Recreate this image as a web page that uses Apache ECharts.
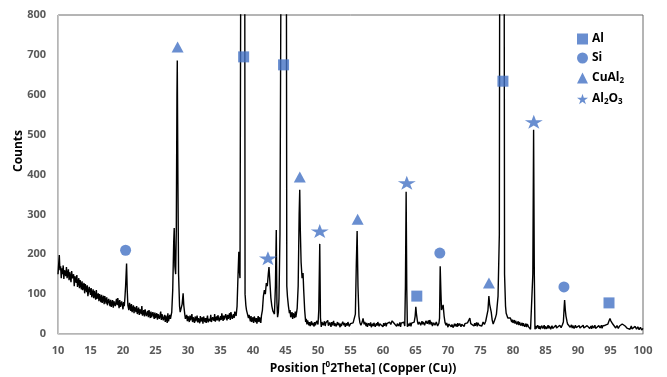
<!DOCTYPE html>
<html>
<head>
<meta charset="utf-8">
<script src="https://cdn.jsdelivr.net/npm/echarts@6/dist/echarts.min.js"></script>
<style>html,body{margin:0;padding:0;background:#fff}#c{width:667px;height:377px}</style>
</head>
<body>
<div id="c"></div>
<script>
// XRD pattern: [2theta, counts]
var pattern = [
[10.0,150],[10.1,175],[10.2,198],[10.3,160],[10.4,170],[10.5,140],[10.6,165],[10.7,150],[10.8,172],[10.9,138],
[11.0,160],[11.2,145],[11.3,168],[11.4,140],[11.6,162],[11.7,135],[11.8,155],[12.0,130],[12.1,158],[12.2,140],
[12.4,150],[12.5,120],[12.6,145],[12.8,128],[12.9,148],[13.0,118],[13.2,140],[13.3,115],[13.4,135],[13.6,112],
[13.7,132],[13.8,110],[14.0,128],[14.1,102],[14.2,125],[14.4,105],[14.5,122],[14.6,95],[14.8,118],[15.0,98],
[15.1,115],[15.2,92],[15.4,112],[15.5,90],[15.6,108],[15.8,86],[15.9,110],[16.0,88],[16.2,102],[16.3,82],
[16.4,100],[16.6,80],[16.7,98],[16.8,78],[17.0,96],[17.1,75],[17.2,95],[17.4,76],[17.5,92],[17.6,72],
[17.8,88],[18.0,70],[18.1,86],[18.2,68],[18.4,85],[18.5,66],[18.6,82],[18.8,70],[19.0,88],[19.1,72],
[19.2,90],[19.4,65],[19.5,85],[19.6,68],[19.8,82],[20.0,62],[20.1,80],[20.2,70],[20.3,92],[20.4,120],
[20.55,177],[20.65,110],[20.75,72],[20.9,60],[21.0,78],[21.2,58],[21.3,75],[21.4,55],[21.6,72],[21.7,52],
[21.8,68],[22.0,55],[22.1,70],[22.2,50],[22.4,66],[22.5,48],[22.6,62],[22.8,50],[22.9,70],[23.0,46],
[23.2,60],[23.3,44],[23.4,62],[23.6,45],[23.8,58],[23.9,42],[24.0,60],[24.2,40],[24.3,56],[24.4,42],
[24.6,55],[24.8,38],[24.9,54],[25.0,40],[25.2,52],[25.3,36],[25.4,50],[25.6,38],[25.8,56],[25.9,35],
[26.0,50],[26.2,34],[26.4,48],[26.5,30],[26.6,46],[26.8,28],[26.9,52],[27.0,32],[27.2,48],[27.3,38],
[27.5,55],[27.65,110],[27.8,230],[27.88,266],[27.98,170],[28.1,150],[28.2,260],[28.3,600],[28.35,686],[28.45,380],
[28.55,150],[28.7,70],[28.8,55],[28.95,50],[29.1,75],[29.25,102],[29.35,72],[29.5,50],[29.6,38],
[29.8,48],[29.9,32],[30.0,45],[30.2,30],[30.3,46],[30.4,34],[30.6,50],[30.7,30],[30.8,42],[31.0,28],
[31.1,44],[31.2,32],[31.4,46],[31.5,29],[31.6,40],[31.8,27],[31.9,45],[32.0,31],[32.2,42],[32.3,26],
[32.4,44],[32.6,30],[32.7,40],[32.8,28],[33.0,46],[33.1,29],[33.2,38],[33.4,32],[33.5,48],[33.6,30],
[33.8,42],[34.0,33],[34.1,50],[34.2,31],[34.4,44],[34.5,34],[34.6,47],[34.8,32],[35.0,45],[35.1,35],
[35.2,52],[35.4,33],[35.5,46],[35.6,36],[35.8,50],[36.0,34],[36.1,48],[36.2,38],[36.4,52],[36.5,35],
[36.6,55],[36.8,38],[37.0,50],[37.1,40],[37.2,56],[37.4,45],[37.55,70],[37.7,150],[37.82,206],[37.9,160],
[38.0,140],[38.1,145],[38.2,1500],[38.45,3000],[38.7,1500],[38.78,100],[38.9,72],[39.0,60],[39.2,55],[39.3,40],
[39.4,48],[39.6,32],[39.7,45],[39.8,30],[40.0,42],[40.1,28],[40.2,44],[40.4,30],[40.5,40],[40.6,26],
[40.8,45],[40.9,30],[41.0,42],[41.2,28],[41.3,46],[41.45,60],[41.6,95],[41.75,110],[41.9,100],[42.05,128],
[42.2,120],[42.35,150],[42.46,168],[42.6,130],[42.75,90],[42.9,70],[43.05,58],[43.2,62],[43.3,50],[43.45,120],
[43.58,261],[43.68,80],[43.78,42],[43.9,55],[44.0,90],[44.15,250],[44.3,900],[44.75,3000],[45.14,900],[45.2,120],
[45.3,94],[45.45,70],[45.6,52],[45.7,60],[45.8,42],[46.0,55],[46.1,38],[46.2,52],[46.4,40],[46.5,56],
[46.6,42],[46.8,65],[46.95,120],[47.1,300],[47.19,362],[47.28,260],[47.4,180],[47.55,140],[47.7,153],[47.8,110],
[47.95,60],[48.1,30],[48.2,38],[48.3,24],[48.4,34],[48.6,22],[48.7,30],[48.8,20],[49.0,32],[49.1,22],
[49.2,28],[49.4,19],[49.5,30],[49.6,22],[49.8,33],[50.0,24],[50.12,60],[50.27,226],[50.38,40],[50.5,18],
[50.6,30],[50.8,22],[51.0,32],[51.1,20],[51.2,28],[51.4,24],[51.5,34],[51.6,21],[51.8,29],[52.0,18],
[52.1,30],[52.2,22],[52.4,33],[52.5,20],[52.6,27],[52.8,19],[53.0,30],[53.1,22],[53.2,28],[53.4,17],
[53.5,26],[53.6,20],[53.8,31],[54.0,22],[54.1,28],[54.2,18],[54.4,27],[54.5,21],[54.6,30],[54.8,19],
[55.0,26],[55.2,22],[55.4,28],[55.6,25],[55.75,50],[55.9,180],[56.02,258],[56.15,120],[56.3,45],[56.45,28],
[56.6,22],[56.8,30],[56.93,39],[57.1,24],[57.2,30],[57.4,20],[57.5,28],[57.6,18],[57.8,27],[58.0,21],
[58.1,29],[58.2,17],[58.4,26],[58.5,20],[58.6,28],[58.8,18],[59.0,27],[59.1,21],[59.2,30],[59.4,19],
[59.5,26],[59.6,22],[59.8,29],[60.0,18],[60.1,27],[60.2,21],[60.4,28],[60.5,19],[60.6,26],[60.8,22],
[61.0,30],[61.2,24],[61.4,33],[61.55,36],[61.7,27],[61.8,22],[62.0,28],[62.1,19],[62.2,26],[62.4,20],
[62.6,29],[62.7,18],[62.8,27],[63.0,22],[63.2,30],[63.35,20],[63.45,120],[63.56,357],[63.66,110],[63.75,18],
[63.9,26],[64.0,20],[64.2,28],[64.3,19],[64.4,27],[64.6,22],[64.8,30],[64.95,45],[65.05,68],[65.15,50],
[65.3,32],[65.4,24],[65.6,30],[65.8,22],[66.0,32],[66.1,24],[66.2,30],[66.4,22],[66.6,33],[66.7,35],
[66.8,26],[67.0,34],[67.1,24],[67.2,35],[67.4,24],[67.5,30],[67.6,20],[67.8,28],[68.0,22],[68.2,30],
[68.4,20],[68.6,27],[68.7,40],[68.8,170],[68.9,110],[69.0,60],[69.15,65],[69.25,73],[69.4,45],[69.55,28],
[69.7,22],[69.8,28],[70.0,17],[70.1,25],[70.2,20],[70.4,27],[70.5,18],[70.6,24],[70.8,16],[71.0,26],
[71.1,19],[71.2,25],[71.4,18],[71.5,27],[71.6,20],[71.8,26],[72.0,18],[72.1,24],[72.2,20],[72.4,28],
[72.5,19],[72.6,26],[72.8,21],[73.0,28],[73.2,24],[73.36,40],[73.5,26],[73.6,22],[73.8,30],[74.0,20],
[74.1,27],[74.2,21],[74.4,29],[74.5,19],[74.6,28],[74.8,22],[75.0,27],[75.2,20],[75.4,30],[75.6,24],
[75.8,32],[76.0,35],[76.15,60],[76.29,95],[76.4,75],[76.5,80],[76.65,55],[76.8,35],[76.95,25],[77.1,30],
[77.25,38],[77.45,50],[77.7,95],[77.9,250],[78.0,1500],[78.3,3000],[78.6,1500],[78.7,150],[78.85,70],[78.95,52],
[79.1,48],[79.2,40],[79.35,45],[79.5,35],[79.6,40],[79.8,30],[79.9,36],[80.0,28],[80.2,35],[80.3,26],
[80.4,33],[80.6,24],[80.8,32],[80.9,22],[81.0,30],[81.2,21],[81.4,28],[81.5,20],[81.6,27],[81.8,18],
[82.0,26],[82.1,17],[82.2,25],[82.4,18],[82.6,22],[82.7,12],[82.85,10],[82.95,14],[83.05,150],[83.17,512],
[83.28,150],[83.38,12],[83.5,20],[83.6,14],[83.8,22],[84.0,13],[84.1,20],[84.2,12],[84.4,21],[84.6,14],
[84.8,22],[84.9,12],[85.0,19],[85.2,13],[85.4,22],[85.5,14],[85.6,20],[85.8,12],[86.0,21],[86.1,14],
[86.2,19],[86.4,12],[86.6,22],[86.7,15],[86.8,20],[87.0,13],[87.2,22],[87.4,16],[87.6,23],[87.75,30],
[87.88,70],[87.94,85],[88.05,60],[88.15,45],[88.3,32],[88.4,25],[88.6,22],[88.8,17],[89.0,23],[89.1,15],
[89.2,21],[89.4,14],[89.6,22],[89.7,16],[89.8,20],[90.0,13],[90.2,21],[90.3,15],[90.4,19],[90.6,14],
[90.8,22],[90.9,15],[91.0,20],[91.2,13],[91.4,21],[91.5,16],[91.6,22],[91.8,14],[92.0,20],[92.1,13],
[92.2,21],[92.4,15],[92.6,22],[92.7,14],[92.8,19],[93.0,13],[93.2,21],[93.4,15],[93.6,22],[93.7,14],
[93.8,20],[94.0,16],[94.2,22],[94.4,17],[94.6,25],[94.75,32],[94.92,39],[95.05,33],[95.2,30],[95.35,25],
[95.5,20],[95.6,24],[95.8,15],[96.0,21],[96.2,14],[96.4,20],[96.6,19],[96.8,25],[96.97,28],[97.1,25],
[97.25,20],[97.4,22],[97.6,14],[97.8,19],[98.0,12],[98.2,20],[98.3,13],[98.4,18],[98.6,11],[98.8,19],
[99.0,12],[99.2,18],[99.4,11],[99.6,17],[99.8,10],[100.0,14]
];

// phase markers [2theta, counts]
var alMarks    = [[38.56,695],[44.7,675],[65.2,95],[78.45,634],[94.77,78]];
var siMarks    = [[20.4,210],[68.74,203],[87.84,118]];
var cuAl2Marks = [[28.4,720],[47.2,394],[56.1,288],[76.3,128]];
var al2o3Marks = [[42.3,190],[50.27,258],[63.66,379],[83.2,532]];

var xTicks = [10,15,20,25,30,35,40,45,50,55,60,65,70,75,80,85,90,95,100];
var yTicks = [0,100,200,300,400,500,600,700,800];

var blue = '#4472C4';
var starPath = 'path://M50,0 L61.2,34.5 L97.6,34.5 L68.2,55.9 L79.4,90.5 L50,69.1 L20.6,90.5 L31.8,55.9 L2.4,34.5 L38.8,34.5 Z';
var font = "'Open Sans', 'Liberation Sans', sans-serif";

var chart = echarts.init(document.getElementById('c'));
chart.setOption({
  animation: false,
  backgroundColor: '#fff',
  grid: {left: 58, right: 24, top: 15, bottom: 43, show: true, borderColor: '#6b6b6b', borderWidth: 1},
  xAxis: {
    type: 'value', min: xTicks[0], max: xTicks[xTicks.length-1], interval: 5,
    axisLine: {show: true, lineStyle: {color: '#c8c8c8', width: 1}},
    axisTick: {show: false}, splitLine: {show: false},
    axisLabel: {color: '#595959', fontSize: 11, fontWeight: 'bold', fontFamily: font, margin: 11}
  },
  yAxis: {
    type: 'value', min: yTicks[0], max: yTicks[yTicks.length-1], interval: 100,
    axisLine: {show: true, lineStyle: {color: '#c8c8c8', width: 1}},
    axisTick: {show: false}, splitLine: {show: false},
    axisLabel: {color: '#595959', fontSize: 11, fontWeight: 'bold', fontFamily: font, margin: 12}
  },
  legend: {
    orient: 'vertical', left: 572, top: 28, itemGap: 7, itemWidth: 11, itemHeight: 11,
    data: ['Al','Si','CuAl2','Al2O3'],
    formatter: function (n) {
      if (n === 'CuAl2') return '{t|CuAl}{s|2}';
      if (n === 'Al2O3') return '{t|Al}{s|2}{t|O}{s|3}';
      return '{t|' + n + '}';
    },
    textStyle: {
      padding: [0,0,0,-1],
      rich: {
        t: {fontSize: 12, fontWeight: 'bold', color: '#000', fontFamily: font, lineHeight: 14},
        s: {fontSize: 8, fontWeight: 'bold', color: '#000', fontFamily: font, lineHeight: 14, verticalAlign: 'bottom', padding: [6,0,0,0]}
      }
    }
  },
  graphic: [
    {type: 'text', x: 19, y: 151, rotation: Math.PI/2,
     style: {text: 'Counts', fill: '#000', font: "bold 12px 'Open Sans', sans-serif", align: 'center', verticalAlign: 'middle'}},
    {type: 'text', x: 363, y: 369,
     style: {text: '{t|Position [}{s|0}{t|2Theta] (Copper (Cu))}', align: 'center', verticalAlign: 'middle',
       rich: {
         t: {fontSize: 12, fontWeight: 'bold', fill: '#000', fontFamily: font, lineHeight: 16},
         s: {fontSize: 8, fontWeight: 'bold', fill: '#000', fontFamily: font, lineHeight: 16, verticalAlign: 'top', padding: [0,0,6,0]}
       }}}
  ],
  series: [
    {type: 'line', name: 'pattern', data: pattern, showSymbol: false, symbol: 'none', clip: true,
     lineStyle: {color: '#000', width: 1.4}, z: 2, legendHoverLink: false},
    {type: 'scatter', name: 'Al', data: alMarks, symbol: 'rect', symbolSize: 11, itemStyle: {color: blue}, z: 5},
    {type: 'scatter', name: 'Si', data: siMarks, symbol: 'circle', symbolSize: 11, itemStyle: {color: blue}, z: 5},
    {type: 'scatter', name: 'CuAl2', data: cuAl2Marks, symbol: 'triangle', symbolSize: [12,11], itemStyle: {color: blue}, z: 5},
    {type: 'scatter', name: 'Al2O3', data: al2o3Marks, symbol: starPath, symbolSize: [18,14], itemStyle: {color: blue}, z: 5}
  ]
});
</script>
</body>
</html>
